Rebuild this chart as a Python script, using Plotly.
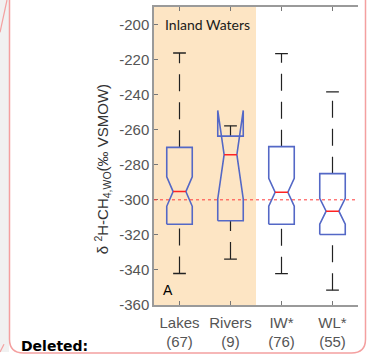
import numpy as np
import plotly.graph_objects as go

# Box statistics per water type (δ2H of CH4, ‰ VSMOW)
categories = ["Lakes", "Rivers", "IW*", "WL*"]
counts = [67, 9, 76, 55]
whisker_low = [-342.0, -333.8, -342.1, -351.5]
quartile_1 = [-313.9, -311.9, -313.9, -319.8]
medians = [-295.3, -274.3, -295.7, -306.5]
quartile_3 = [-270.1, -263.7, -269.7, -285.1]
whisker_high = [-216.3, -257.8, -216.7, -238.5]
y_ticks = list(range(-360, -199, 20))
reference_level = -300

W, H = 368, 360
PLOT_L, PLOT_R, PLOT_T, PLOT_B = 154, 358, 7, 312

BOX_COLOR = "#5468c6"
MEDIAN_COLOR = "#ff2222"
WHISKER_COLOR = "#222222"
AXIS_COLOR = "#9a9a9a"
LABEL_COLOR = "#555555"
PINK = "#f4a0a0"

half_w = 0.25     # box half width
notch_w = 0.125   # half width at the median notch
cap_w = 0.125     # whisker cap half width


def px(x):
    return x / W


def py(y):
    return 1 - y / H


fig = go.Figure()

for i, name in enumerate(categories):
    c = i + 1
    q1, med, q3 = quartile_1[i], medians[i], quartile_3[i]
    iqr = q3 - q1
    half_notch = 1.57 * iqr / np.sqrt(counts[i])
    n_lo, n_hi = med - half_notch, med + half_notch

    # whiskers, drawn bottom to top
    for a, b in ((whisker_low[i], q1), (q3, whisker_high[i])):
        fig.add_trace(go.Scatter(
            x=[c, c], y=[a, b], mode="lines",
            line=dict(color=WHISKER_COLOR, width=1.2, dash="17px,11px"),
            hoverinfo="skip", showlegend=False))
    # caps
    for v in (whisker_low[i], whisker_high[i]):
        fig.add_trace(go.Scatter(
            x=[c - cap_w, c + cap_w], y=[v, v], mode="lines",
            line=dict(color=WHISKER_COLOR, width=1.3),
            hoverinfo="skip", showlegend=False))

    # notched box outline
    bx = [c - half_w, c - half_w, c - notch_w, c - half_w, c - half_w,
          c + half_w, c + half_w, c + notch_w, c + half_w, c + half_w, c - half_w]
    by = [q1, n_lo, med, n_hi, q3, q3, n_hi, med, n_lo, q1, q1]
    fig.add_trace(go.Scatter(
        x=bx, y=by, mode="lines",
        line=dict(color=BOX_COLOR, width=1.6),
        hoverinfo="skip", showlegend=False))

    # median
    fig.add_trace(go.Scatter(
        x=[c - notch_w, c + notch_w], y=[med, med], mode="lines",
        line=dict(color=MEDIAN_COLOR, width=1.6),
        hoverinfo="skip", showlegend=False))

shapes = [
    # inland-water panel shading
    dict(type="rect", xref="x", yref="y", x0=0.5, x1=2.5, y0=-360, y1=-190,
         fillcolor="#fde5c4", line=dict(width=0), layer="below"),
    # reference line
    dict(type="line", xref="x", yref="y", x0=0.5, x1=4.5,
         y0=reference_level, y1=reference_level,
         line=dict(color="#ff3b3b", width=1, dash="dot")),
    # page margin strip
    dict(type="rect", xref="paper", yref="paper", x0=0, x1=px(9), y0=0, y1=1,
         fillcolor="#f1f1f1", line=dict(width=0), layer="below"),
]

# comment balloon outline
r = 14
bal_l, bal_r, bal_b = 9.5, 365.5, 361
path = (f"M {px(bal_l)},{py(-5)} L {px(bal_l)},{py(bal_b - r)} "
        f"Q {px(bal_l)},{py(bal_b)} {px(bal_l + r)},{py(bal_b)} "
        f"L {px(bal_r - r)},{py(bal_b)} "
        f"Q {px(bal_r)},{py(bal_b)} {px(bal_r)},{py(bal_b - r)} "
        f"L {px(bal_r)},{py(-5)}")
shapes.append(dict(type="path", xref="paper", yref="paper", path=path,
                   line=dict(color=PINK, width=1.5)))
shapes.append(dict(type="line", xref="paper", yref="paper",
                   x0=px(0), y0=py(33), x1=px(7), y1=py(0),
                   line=dict(color=PINK, width=1.2)))
shapes.append(dict(type="line", xref="paper", yref="paper",
                   x0=px(0), y0=py(360), x1=px(4), y1=py(352),
                   line=dict(color=PINK, width=1.2)))

annotations = [
    dict(text="Inland Waters", xref="x", yref="y", x=0.67, y=-200,
         xanchor="left", yanchor="middle", showarrow=False,
         font=dict(family="Lato", size=14, color="#1a1a1a")),
    dict(text="A", xref="x", yref="y", x=0.63, y=-351.5,
         xanchor="left", yanchor="middle", showarrow=False,
         font=dict(family="Liberation Sans", size=14, color="#000000")),
    dict(text="δ <sup>2</sup>H-CH<sub>4,WO</sub>(‰ VSMOW)",
         xref="paper", yref="paper", x=px(102), y=py(173),
         xanchor="center", yanchor="middle", textangle=-90, showarrow=False,
         font=dict(family="Liberation Sans", size=15, color="#333333")),
    dict(text="<b>Deleted:</b>", xref="paper", yref="paper",
         x=px(19), y=py(354), xanchor="left", yanchor="middle",
         showarrow=False,
         font=dict(family="DejaVu Sans", size=14, color="#000000")),
]

tick_text = [f"{n}<br>({k})" for n, k in zip(categories, counts)]

fig.update_layout(
    width=W, height=H,
    margin=dict(l=0, r=0, t=0, b=0),
    paper_bgcolor="white", plot_bgcolor="white",
    showlegend=False,
    shapes=shapes,
    annotations=annotations,
    xaxis=dict(
        domain=[px(PLOT_L), px(PLOT_R)], range=[0.5, 4.5],
        tickmode="array", tickvals=[1, 2, 3, 4], ticktext=tick_text,
        ticks="inside", ticklen=4, tickwidth=1.3, tickcolor="#777777",
        ticklabelstandoff=3,
        showline=True, linecolor=AXIS_COLOR, linewidth=1.5, mirror="ticks",
        showgrid=False, zeroline=False,
        tickfont=dict(family="Liberation Sans", size=15, color=LABEL_COLOR),
    ),
    yaxis=dict(
        domain=[py(PLOT_B), py(PLOT_T)], range=[-360, -190],
        tickmode="array", tickvals=y_ticks,
        ticktext=[str(v) for v in y_ticks],
        ticks="inside", ticklen=4, tickwidth=1.3, tickcolor="#777777",
        showline=True, linecolor=AXIS_COLOR, linewidth=1.5,
        showgrid=False, zeroline=False,
        tickfont=dict(family="Liberation Sans", size=15, color=LABEL_COLOR),
    ),
)

fig.write_html("out.html")
